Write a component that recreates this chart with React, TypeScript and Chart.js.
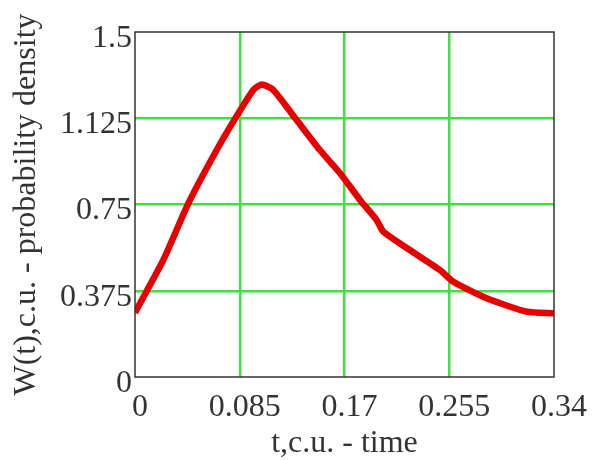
import React, { useEffect, useRef } from "react";
import { Chart, registerables } from "chart.js";

Chart.register(...registerables);

const tValues = [0, 0.023, 0.0433, 0.0663, 0.0838, 0.096, 0.1028, 0.1122, 0.1312, 0.150, 0.1664, 0.1826, 0.196, 0.2015, 0.223, 0.2475, 0.2583, 0.2854, 0.3178, 0.34];
const wValues = [0.28, 0.509, 0.755, 0.987, 1.146, 1.248, 1.272, 1.248, 1.117, 0.987, 0.886, 0.770, 0.683, 0.632, 0.552, 0.465, 0.414, 0.342, 0.284, 0.277];

const xTicks = [0, 0.085, 0.17, 0.255, 0.34];
const xTickLabels = ["0", "0.085", "0.17", "0.255", "0.34"];
const yTicks = [0, 0.375, 0.75, 1.125, 1.5];
const yTickLabels = ["0", "0.375", "0.75", "1.125", "1.5"];

const xTitle = "t,c.u. - time";
const yTitle = "W(t),c.u. - probability density";

const FONT = "'Liberation Serif', 'Times New Roman', serif";

const boxPlugin = {
  id: "boxPlugin",
  afterDraw(chart: any) {
    const { ctx, chartArea } = chart;
    ctx.save();
    ctx.strokeStyle = "#333333";
    ctx.lineWidth = 1.5;
    ctx.strokeRect(chartArea.left, chartArea.top, chartArea.right - chartArea.left, chartArea.bottom - chartArea.top);
    ctx.restore();
  },
};

export default function App() {
  const ref = useRef<HTMLCanvasElement>(null);
  useEffect(() => {
    if (!ref.current) return;
    const chart = new Chart(ref.current, {
      type: "line",
      data: {
        datasets: [
          {
            data: tValues.map((t, i) => ({ x: t, y: wValues[i] })),
            borderColor: "#e60000",
            borderWidth: 6.5,
            pointRadius: 0,
            tension: 0.2,
            fill: false,
          },
        ],
      },
      plugins: [boxPlugin],
      options: {
        animation: false,
        responsive: false,
        layout: { padding: { top: 32, right: 41, left: 0, bottom: 0 } },
        plugins: { legend: { display: false }, tooltip: { enabled: false } },
        scales: {
          x: {
            type: "linear",
            min: 0,
            max: 0.34,
            afterBuildTicks: (s: any) => {
              s.ticks = xTicks.map((v) => ({ value: v }));
            },
            afterFit: (s: any) => {
              s.height = 83;
            },
            ticks: {
              callback: (_v: any, i: number) => xTickLabels[i],
              font: { family: FONT, size: 32, lineHeight: 1.75 },
              color: "#333",
              padding: 3,
              labelOffset: 5,
              maxRotation: 0,
              autoSkip: false,
            },
            grid: {
              drawTicks: false,
              color: (c: any) => (c.index === 0 || c.index === xTicks.length - 1 ? "rgba(0,0,0,0)" : "#3fe03f"),
              lineWidth: 2.5,
            },
            border: { display: false },
            title: {
              display: true,
              text: xTitle,
              font: { family: FONT, size: 32, lineHeight: 1 },
              color: "#333",
              padding: { top: 0, bottom: 0 },
            },
          },
          y: {
            type: "linear",
            min: 0,
            max: 1.5,
            afterBuildTicks: (s: any) => {
              s.ticks = yTicks.map((v) => ({ value: v }));
            },
            afterFit: (s: any) => {
              s.width = 135;
            },
            ticks: {
              callback: (_v: any, i: number) => yTickLabels[i],
              font: { family: FONT, size: 32, lineHeight: 1 },
              color: "#333",
              padding: 3,
              labelOffset: 6.5,
              autoSkip: false,
            },
            grid: {
              drawTicks: false,
              color: (c: any) => (c.index === 0 || c.index === yTicks.length - 1 ? "rgba(0,0,0,0)" : "#3fe03f"),
              lineWidth: 2.5,
            },
            border: { display: false },
            title: {
              display: true,
              text: yTitle,
              font: { family: FONT, size: 32, lineHeight: 1 },
              color: "#333",
              padding: { top: 11, bottom: 0 },
            },
          },
        },
      },
    } as any);
    return () => chart.destroy();
  }, []);
  return (
    <div style={{ position: "fixed", left: 0, top: 0, width: 595, height: 460, background: "#fff" }}>
      <canvas ref={ref} width={595} height={460} style={{ width: 595, height: 460 }} />
    </div>
  );
}
